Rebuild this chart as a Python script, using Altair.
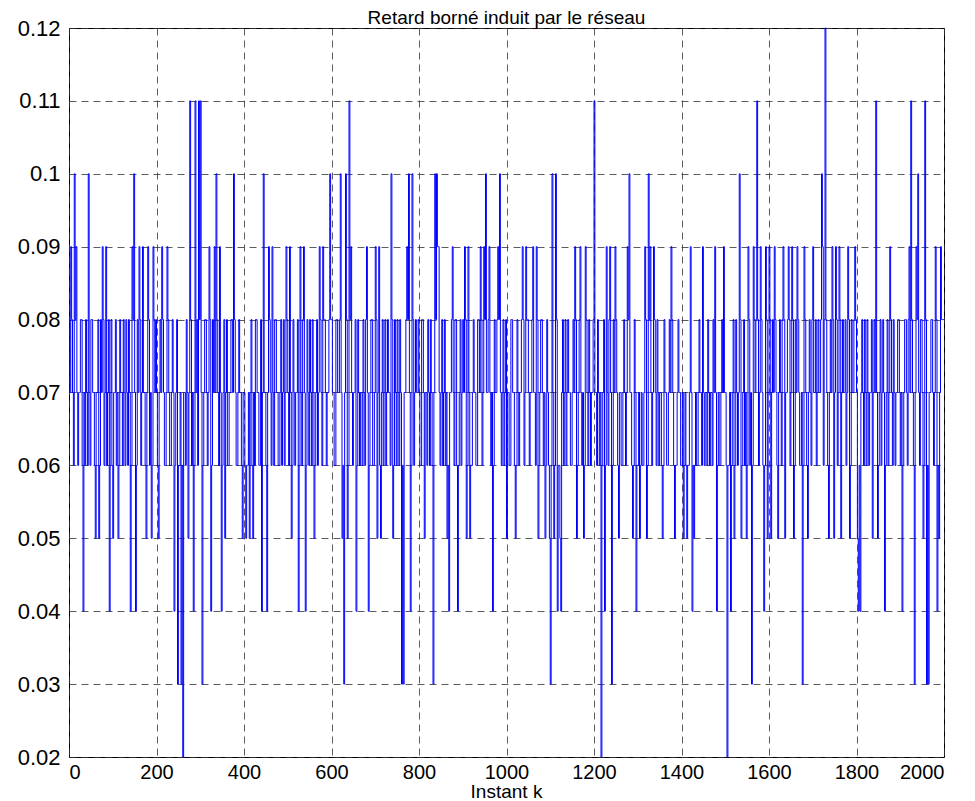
import altair as alt
import pandas as pd

# Network-induced delay in hundredths of a second.
# Each list covers 200 instants (stairs plot, equally spaced samples).
seg_0000 = [8, 7, 9, 8, 7, 6, 10, 8, 9, 7, 6, 7, 7, 8, 8, 6, 4, 7, 6, 8, 7, 6, 10, 7, 6, 8,
            8, 7, 7, 6, 5, 7, 7, 8, 5, 6, 8, 7, 9, 8, 6, 7, 9, 6, 7, 8, 4, 7, 8, 6, 5, 7,
            7, 8, 6, 7, 5, 6, 8, 7, 7, 6, 8, 7, 6, 8, 7, 6, 8, 7, 4, 6, 9, 8, 10, 7, 4, 6,
            8, 7, 9, 8, 6, 7, 9, 7, 7, 6, 5, 7, 9, 8, 6, 7, 5, 6, 9, 8, 7, 8]
seg_0200 = [7, 6, 5, 7, 8, 7, 9, 8, 7, 6, 6, 7, 9, 8, 7, 6, 6, 7, 8, 7, 4, 6, 7, 8, 3, 6,
            6, 7, 3, 6, 2, 7, 7, 6, 8, 7, 5, 7, 11, 8, 6, 7, 4, 6, 11, 7, 8, 6, 11, 8, 11,
            7, 3, 6, 7, 8, 8, 7, 6, 7, 9, 8, 4, 6, 8, 7, 9, 7, 10, 8, 7, 6, 9, 7, 4, 6, 7,
            8, 5, 7, 8, 6, 6, 7, 7, 8, 8, 7, 10, 8, 7, 6, 6, 7, 8, 7, 7, 6, 5, 7]
seg_0400 = [7, 6, 5, 6, 6, 7, 5, 7, 8, 6, 5, 7, 6, 8, 8, 7, 7, 6, 6, 8, 4, 7, 10, 7, 7, 6,
            4, 7, 9, 8, 7, 6, 9, 7, 6, 8, 8, 7, 7, 6, 6, 7, 8, 6, 7, 8, 6, 7, 9, 8, 7, 6,
            9, 7, 5, 6, 8, 7, 6, 7, 7, 8, 4, 6, 9, 7, 6, 8, 9, 7, 4, 6, 8, 7, 6, 8, 7, 6,
            8, 7, 5, 6, 7, 8, 6, 7, 9, 8, 7, 6, 9, 8, 8, 7, 6, 7, 7, 8, 10, 8]
seg_0600 = [8, 7, 7, 6, 6, 8, 8, 7, 7, 8, 10, 7, 5, 6, 3, 7, 10, 8, 5, 6, 11, 8, 9, 7, 6,
            7, 7, 8, 4, 6, 8, 7, 6, 7, 7, 6, 8, 7, 6, 8, 9, 7, 4, 6, 7, 8, 8, 6, 6, 7, 9,
            8, 5, 7, 9, 6, 5, 7, 8, 6, 7, 8, 6, 7, 8, 7, 7, 6, 10, 8, 5, 6, 8, 7, 6, 8, 7,
            6, 8, 7, 3, 6, 3, 7, 7, 8, 9, 8, 10, 7, 4, 6, 10, 8, 6, 7, 8, 7, 7, 8]
seg_0800 = [7, 6, 6, 8, 8, 7, 5, 7, 7, 6, 8, 7, 6, 8, 7, 6, 3, 7, 10, 8, 10, 9, 9, 7, 6,
            7, 8, 6, 7, 8, 6, 7, 5, 6, 4, 7, 7, 8, 9, 7, 6, 8, 8, 6, 4, 6, 7, 8, 6, 7, 8,
            7, 9, 8, 5, 6, 9, 7, 5, 6, 6, 7, 8, 7, 7, 6, 6, 8, 8, 7, 9, 8, 6, 7, 9, 8, 10,
            7, 7, 8, 9, 7, 6, 7, 4, 6, 8, 7, 7, 8, 9, 8, 10, 7, 6, 7, 8, 6, 7, 8]
seg_1000 = [5, 7, 7, 6, 6, 8, 8, 7, 7, 6, 5, 6, 8, 7, 6, 7, 7, 8, 9, 8, 6, 7, 9, 8, 8, 7,
            6, 7, 7, 8, 9, 7, 7, 6, 9, 8, 5, 6, 7, 8, 8, 7, 6, 7, 5, 6, 8, 7, 6, 5, 3, 6,
            10, 7, 5, 6, 10, 8, 4, 6, 6, 5, 4, 7, 8, 6, 7, 8, 6, 7, 8, 7, 7, 6, 6, 7, 8, 7,
            9, 8, 5, 6, 7, 8, 9, 7, 6, 7, 5, 6, 9, 8, 7, 6, 8, 7, 6, 7, 7, 8]
seg_1200 = [11, 7, 7, 6, 8, 7, 6, 7, 2, 6, 7, 8, 4, 6, 9, 7, 6, 8, 9, 7, 3, 6, 8, 7, 9, 8,
            7, 6, 5, 7, 7, 6, 6, 7, 8, 7, 6, 7, 9, 8, 10, 7, 7, 6, 5, 6, 8, 7, 4, 6, 6, 7,
            5, 6, 7, 6, 6, 7, 9, 8, 5, 6, 10, 8, 9, 7, 6, 7, 9, 8, 7, 6, 8, 7, 6, 7, 7, 6,
            5, 6, 8, 7, 7, 6, 6, 7, 8, 7, 9, 8, 7, 6, 5, 6, 6, 7, 8, 7, 7, 6]
seg_1400 = [6, 7, 5, 6, 7, 6, 5, 6, 6, 7, 9, 7, 4, 6, 5, 6, 7, 6, 6, 7, 8, 7, 7, 6, 9, 7,
            6, 7, 7, 6, 8, 7, 6, 7, 7, 6, 8, 7, 9, 7, 4, 6, 7, 6, 6, 7, 8, 7, 9, 7, 7, 6,
            2, 6, 6, 7, 4, 6, 7, 8, 5, 6, 8, 7, 6, 7, 10, 8, 5, 6, 7, 8, 6, 7, 5, 6, 9, 8,
            6, 7, 3, 6, 9, 8, 7, 8, 11, 8, 6, 7, 9, 8, 7, 6, 4, 6, 9, 8, 5, 7]
seg_1600 = [9, 8, 5, 7, 8, 7, 9, 8, 7, 6, 5, 7, 8, 7, 6, 8, 9, 8, 5, 7, 7, 8, 9, 8, 6, 7,
            9, 8, 5, 6, 8, 7, 9, 8, 7, 6, 6, 7, 3, 6, 9, 8, 7, 6, 5, 7, 8, 7, 6, 8, 9, 7,
            7, 8, 6, 7, 8, 7, 7, 8, 10, 9, 6, 8, 12, 8, 7, 6, 5, 7, 8, 7, 9, 8, 5, 7, 9, 8,
            6, 7, 9, 8, 5, 7, 8, 7, 7, 8, 6, 7, 9, 8, 5, 6, 8, 7, 7, 8, 9, 8]
seg_1800 = [7, 5, 4, 6, 4, 7, 8, 7, 6, 8, 7, 6, 8, 7, 6, 7, 7, 8, 5, 7, 8, 7, 11, 7, 5,
            6, 7, 8, 6, 7, 8, 7, 4, 6, 7, 8, 6, 7, 9, 8, 7, 6, 8, 7, 6, 7, 7, 8, 8, 7, 6,
            7, 4, 6, 7, 8, 8, 7, 6, 8, 9, 7, 11, 8, 7, 6, 3, 7, 9, 8, 10, 7, 6, 8, 8, 7, 5,
            6, 11, 8, 3, 6, 3, 7, 7, 8, 8, 7, 6, 7, 9, 8, 4, 6, 5, 7, 9, 8, 8, 8]

seg_starts = [0, 200, 400, 600, 800, 1000, 1200, 1400, 1600, 1800]
k_end = 2000
x_ticks = [0, 200, 400, 600, 800, 1000, 1200, 1400, 1600, 1800, 2000]
y_ticks = [0.02, 0.03, 0.04, 0.05, 0.06, 0.07, 0.08, 0.09, 0.10, 0.11, 0.12]
title_text = ["Retard borné induit par le réseau"]
xlabel_text = ["Instant k"]

segments = [seg_0000, seg_0200, seg_0400, seg_0600, seg_0800,
            seg_1000, seg_1200, seg_1400, seg_1600, seg_1800]
ks, vals = [], []
for start, seg in zip(seg_starts, segments):
    for i, v in enumerate(seg):
        ks.append(start + i * 200 / len(seg))
        vals.append(v / 100)
ks.append(k_end)
vals.append(vals[-1])
df = pd.DataFrame({"k": ks, "retard": vals})

FONT = "Liberation Sans"
W, H = 875, 729

line = (
    alt.Chart(df)
    .mark_line(interpolate="step-after", color="#0000FF", strokeWidth=1)
    .encode(
        x=alt.X(
            "k:Q",
            scale=alt.Scale(domain=[0, 2000], nice=False),
            axis=alt.Axis(values=x_ticks, format="d", title=None, labelPadding=5,
                          labelFontSize=20),
        ),
        y=alt.Y(
            "retard:Q",
            scale=alt.Scale(domain=[0.02, 0.12], nice=False, zero=False),
            axis=alt.Axis(values=y_ticks, format=".2~f", title=None, labelPadding=9,
                          labelFontSize=22),
        ),
    )
)

title_mark = (
    alt.Chart(pd.DataFrame({"label": title_text}))
    .mark_text(font=FONT, fontSize=19, color="black", align="center", baseline="alphabetic")
    .encode(text="label:N", x=alt.value(W / 2), y=alt.value(-4))
)

xlabel_mark = (
    alt.Chart(pd.DataFrame({"label": xlabel_text}))
    .mark_text(font=FONT, fontSize=19, color="black", align="center", baseline="alphabetic")
    .encode(text="label:N", x=alt.value(W / 2), y=alt.value(H + 41))
)

chart = (
    alt.layer(line, title_mark, xlabel_mark)
    .properties(
        width=W,
        height=H,
        autosize=alt.AutoSizeParams(type="none"),
        padding={"left": 61, "top": 20, "right": 23, "bottom": 44},
    )
    .configure_view(stroke="black", strokeWidth=1)
    .configure_axis(
        domain=False,
        ticks=False,
        grid=True,
        gridColor="#333333",
        gridDash=[7, 5],
        gridWidth=1,
        gridOpacity=0.8,
        labelFont=FONT,
        labelColor="black",
    )
)

chart.save("out.html", embed_options={"renderer": "svg", "actions": False})
